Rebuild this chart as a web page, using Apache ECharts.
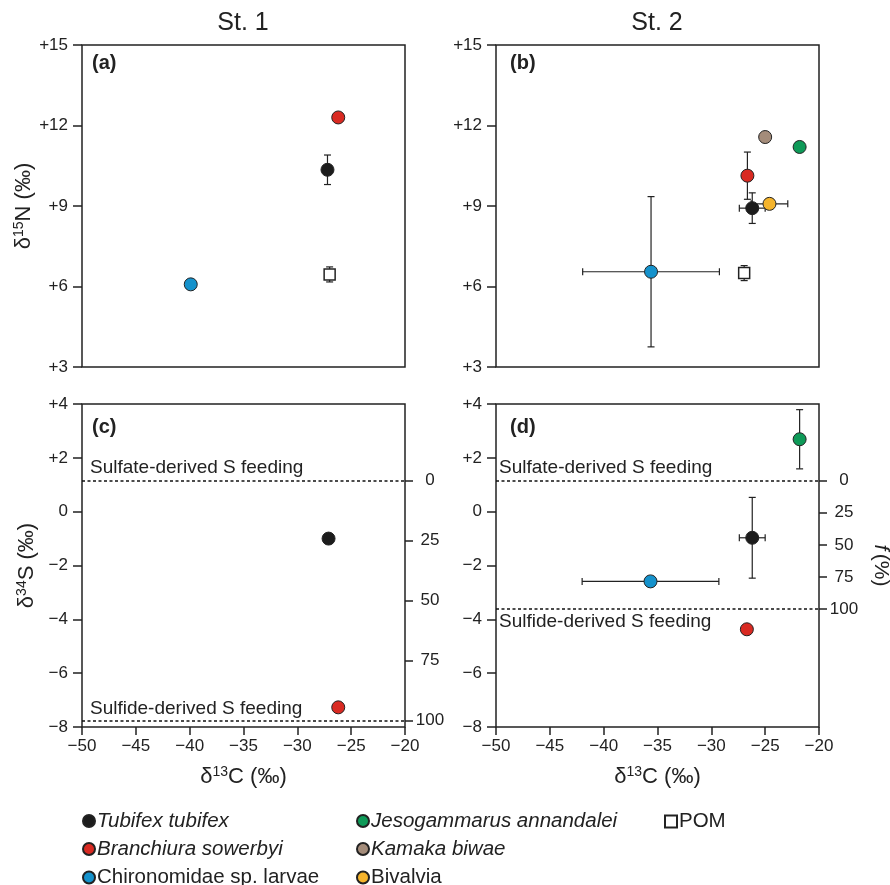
<!DOCTYPE html>
<html>
<head>
<meta charset="utf-8">
<script src="https://cdn.jsdelivr.net/npm/echarts@6/dist/echarts.min.js"></script>
<style>html,body{margin:0;padding:0;background:#fff}</style>
</head>
<body>
<div id="chart" style="width:890px;height:885px"></div>
<script>
// species, in legend order
var speciesNames = ['Tubifex tubifex', 'Branchiura sowerbyi', 'Chironomidae sp. larvae',
  'Jesogammarus annandalei', 'Kamaka biwae', 'Bivalvia', 'POM'];
var speciesColors = ['#1c1c1c', '#d92a22', '#1592cc', '#0e9a58', '#a48c7a', '#f5b42c', '#ffffff'];
var italicNames = ['Tubifex tubifex', 'Branchiura sowerbyi', 'Jesogammarus annandalei', 'Kamaka biwae'];

// [d13C, sd, dY, sd] per species, null = not found at the station
var st1N = [[-27.2, 0.3, 10.35, 0.55], [-26.2, 0, 12.3, 0], [-39.9, 0, 6.08, 0], null, null, null, [-27.0, 0.25, 6.45, 0.28]];
var st2N = [[-26.2, 1.2, 8.92, 0.57], [-26.65, 0.3, 10.13, 0.88], [-35.6, 6.35, 6.55, 2.8],
  [-21.8, 0, 11.2, 0], [-25.0, 0, 11.57, 0], [-24.6, 1.7, 9.08, 0], [-26.95, 0.35, 6.5, 0.28]];
var st1S = [[-27.1, 0.35, -1.0, 0.1], [-26.2, 0, -7.27, 0], null, null, null, null, null];
var st2S = [[-26.2, 1.2, -0.97, 1.5], [-26.7, 0.3, -4.37, 0], [-35.65, 6.35, -2.59, 0],
  [-21.8, 0, 2.69, 1.1], null, null, null];

// end-member d34S lines
var sulfateLine = 1.15;
var sulfideLine = [-7.77, -3.62];
var fTicks = [0, 25, 50, 75, 100];

var FONT = 'Liberation Sans, Arial, Helvetica, sans-serif';
var INK = '#222';

function signed(v) {
  if (v > 0) return '+' + v;
  if (v < 0) return '\u2212' + Math.abs(v);
  return '0';
}

var grids = [
  {left: 82, top: 45, width: 323, height: 322},
  {left: 496, top: 45, width: 323, height: 322},
  {left: 82, top: 404, width: 323, height: 323},
  {left: 496, top: 404, width: 323, height: 323}
];
grids.forEach(function (g) {
  g.show = true; g.borderColor = INK; g.borderWidth = 1.5;
  g.outerBoundsMode = 'none'; g.containLabel = false;
});

var xAxes = [0, 1, 2, 3].map(function (i) {
  var bottom = i > 1;
  return {
    type: 'value', gridIndex: i, min: -50, max: -20, interval: 5,
    splitLine: {show: false},
    axisLine: {show: false, onZero: false},
    axisTick: {show: bottom, length: 8, lineStyle: {color: INK, width: 1.5}},
    axisLabel: {show: bottom, margin: 11, fontSize: 17, color: INK, fontFamily: FONT, formatter: signed},
    name: bottom ? '{t|δ}{s|13}{t|C (‰)}' : '',
    nameLocation: 'middle', nameGap: 38,
    nameTextStyle: {rich: {
      t: {fontSize: 22, fontFamily: FONT, color: INK},
      s: {fontSize: 14, fontFamily: FONT, color: INK, padding: [0, 0, 10, 0]}
    }}
  };
});

function leftY(i, min, max, interval, name) {
  return {
    type: 'value', gridIndex: i, min: min, max: max, interval: interval,
    splitLine: {show: false},
    axisLine: {show: false, onZero: false},
    axisTick: {length: 9, lineStyle: {color: INK, width: 1.5}},
    axisLabel: {margin: 14, fontSize: 17, color: INK, fontFamily: FONT, formatter: signed},
    name: name, nameLocation: 'middle', nameGap: 43,
    nameTextStyle: {rich: {
      t: {fontSize: 22, fontFamily: FONT, color: INK},
      s: {fontSize: 14, fontFamily: FONT, color: INK, padding: [0, 0, 10, 0]}
    }}
  };
}

// right f (%) axis: 0 at sulfate line, 100 at sulfide line
function rightF(i, sulfide, withName) {
  var span = sulfateLine - sulfide;
  return {
    type: 'value', gridIndex: i, position: 'right', inverse: true,
    min: (sulfateLine - 4) / span * 100, max: (sulfateLine + 8) / span * 100,
    splitLine: {show: false},
    axisLine: {show: false, onZero: false},
    axisTick: {length: 8, customValues: fTicks, lineStyle: {color: INK, width: 1.5}},
    axisLabel: {customValues: fTicks, margin: 25, align: 'center', fontSize: 17, color: INK, fontFamily: FONT},
    name: withName ? '{i|f} {n|(%)}' : '',
    nameLocation: 'middle', nameRotate: -90, nameGap: 51,
    nameTextStyle: {rich: {
      i: {fontSize: 21, fontStyle: 'italic', fontFamily: FONT, color: INK},
      n: {fontSize: 21, fontFamily: FONT, color: INK}
    }}
  };
}

var yAxes = [
  leftY(0, 3, 15, 3, '{t|δ}{s|15}{t|N (‰)}'),
  leftY(1, 3, 15, 3, ''),
  leftY(2, -8, 4, 2, '{t|δ}{s|34}{t|S (‰)}'),
  leftY(3, -8, 4, 2, ''),
  rightF(2, sulfideLine[0], false),
  rightF(3, sulfideLine[1], true)
];

function renderErr(params, api) {
  var x = api.value(0), xe = api.value(1), y = api.value(2), ye = api.value(3);
  var c = api.coord([x, y]);
  var cap = 3.5;
  var st = {stroke: INK, lineWidth: 1.2};
  var ch = [];
  if (ye > 0) {
    var t = api.coord([x, y + ye])[1], b = api.coord([x, y - ye])[1];
    ch.push({type: 'line', shape: {x1: c[0], y1: t, x2: c[0], y2: b}, style: st});
    ch.push({type: 'line', shape: {x1: c[0] - cap, y1: t, x2: c[0] + cap, y2: t}, style: st});
    ch.push({type: 'line', shape: {x1: c[0] - cap, y1: b, x2: c[0] + cap, y2: b}, style: st});
  }
  if (xe > 0) {
    var l = api.coord([x - xe, y])[0], r = api.coord([x + xe, y])[0];
    ch.push({type: 'line', shape: {x1: l, y1: c[1], x2: r, y2: c[1]}, style: st});
    ch.push({type: 'line', shape: {x1: l, y1: c[1] - cap, x2: l, y2: c[1] + cap}, style: st});
    ch.push({type: 'line', shape: {x1: r, y1: c[1] - cap, x2: r, y2: c[1] + cap}, style: st});
  }
  return {type: 'group', children: ch};
}

var panels = [st1N, st2N, st1S, st2S];
var series = [];
panels.forEach(function (rows, p) {
  series.push({
    name: 'err' + p, type: 'custom', xAxisIndex: p, yAxisIndex: p, z: 1,
    renderItem: renderErr, encode: {x: 0, y: 2}, silent: true,
    data: rows.filter(function (r) { return r; })
  });
  rows.forEach(function (r, i) {
    if (!r) return;
    var pom = speciesNames[i] === 'POM';
    series.push({
      name: speciesNames[i], type: 'scatter', xAxisIndex: p, yAxisIndex: p, z: 3,
      symbol: pom ? 'rect' : 'circle', symbolSize: pom ? 11 : 13,
      itemStyle: {color: speciesColors[i], borderColor: INK, borderWidth: pom ? 1.5 : 1, opacity: 1},
      data: [[r[0], r[2]]]
    });
  });
});

// end-member lines on the d34S panels
[2, 3].forEach(function (p, k) {
  var lab = {fontSize: 19, color: INK, fontFamily: FONT, distance: k === 0 ? [8, 3] : [3, 3]};
  series.push({
    name: 'lines' + p, type: 'line', xAxisIndex: p, yAxisIndex: p, data: [],
    markLine: {
      silent: true, symbol: 'none',
      lineStyle: {color: '#111', type: [3, 2.5], width: 1.5},
      data: [
        {yAxis: sulfateLine, label: Object.assign({formatter: 'Sulfate-derived S feeding', position: 'insideStartTop'}, lab)},
        {yAxis: sulfideLine[k], label: Object.assign({formatter: 'Sulfide-derived S feeding',
          position: k === 0 ? 'insideStartTop' : 'insideStartBottom'}, lab)}
      ]
    }
  });
});

function legendCol(names, left) {
  return {
    orient: 'vertical', left: left, top: 811, height: 90, padding: 0,
    itemGap: 8, itemWidth: 12, itemHeight: 12,
    selectedMode: false,
    textStyle: {fontSize: 20.5, color: INK, fontFamily: FONT, padding: [0, 0, 0, -3]},
    data: names.map(function (n) {
      return {name: n, textStyle: {fontStyle: italicNames.indexOf(n) >= 0 ? 'italic' : 'normal'}};
    })
  };
}

function label(text, x, y, opt) {
  return {type: 'text', x: x, y: y, style: Object.assign({text: text, fill: INK, font: '20px ' + FONT,
    align: 'left', verticalAlign: 'middle'}, opt || {})};
}

var chart = echarts.init(document.getElementById('chart'));
chart.setOption({
  animation: false,
  grid: grids,
  xAxis: xAxes,
  yAxis: yAxes,
  series: series,
  legend: [
    legendCol(speciesNames.slice(0, 3), 82),
    legendCol(speciesNames.slice(3, 6), 356),
    legendCol(speciesNames.slice(6), 664)
  ],
  graphic: [
    label('St. 1', 243, 23, {font: '25px ' + FONT, align: 'center'}),
    label('St. 2', 657, 23, {font: '25px ' + FONT, align: 'center'}),
    label('(a)', 92, 63, {font: 'bold 20px ' + FONT}),
    label('(b)', 510, 63, {font: 'bold 20px ' + FONT}),
    label('(c)', 92, 427, {font: 'bold 20px ' + FONT}),
    label('(d)', 510, 427, {font: 'bold 20px ' + FONT})
  ]
});
</script>
</body>
</html>
